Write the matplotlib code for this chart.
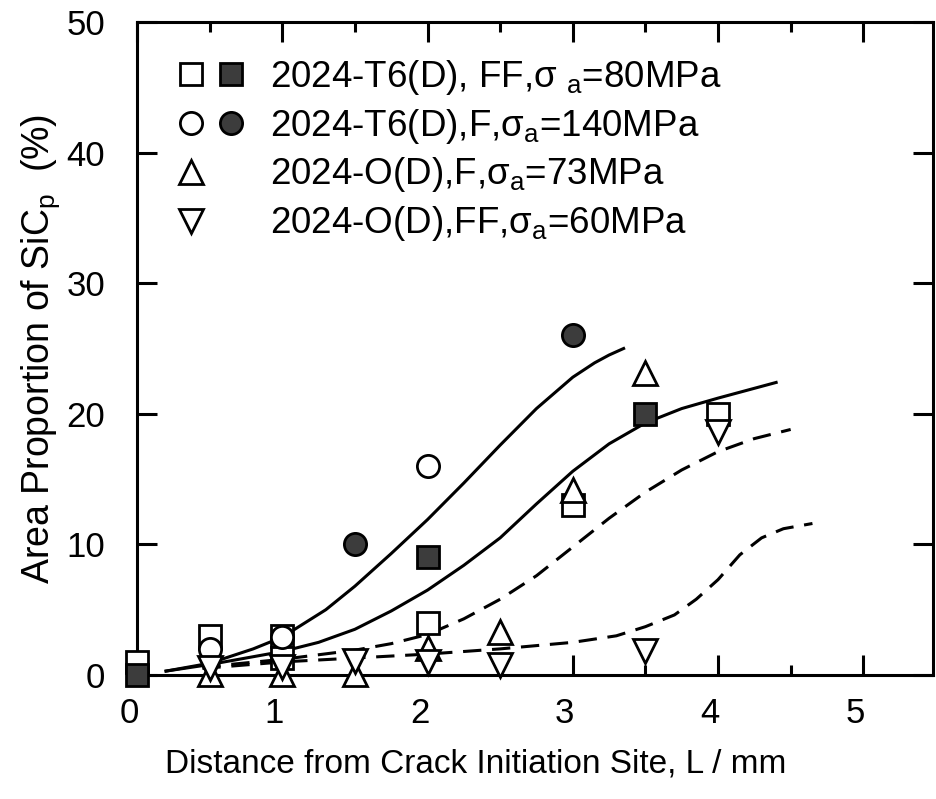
#Area proportion of SiCp vs distance from crack initiation site
import numpy as np
import matplotlib
matplotlib.use("Agg")
import matplotlib.pyplot as plt
import matplotlib.transforms as mtransforms
from matplotlib.lines import Line2D
from matplotlib.legend_handler import HandlerTuple
#==============================================================================================================
# measured points
sq_open_x = [0.0, 0.5, 1.0, 1.0, 2.0, 3.0, 4.0]
sq_open_y = [1.0, 3.0, 3.0, 1.3, 4.0, 13.0, 20.0]
sq_fill_x = [0.0, 2.0, 3.5]
sq_fill_y = [0.0, 9.0, 20.0]
ci_open_x = [0.5, 1.0, 2.0]
ci_open_y = [2.0, 2.9, 16.0]
ci_fill_x = [1.5, 3.0]
ci_fill_y = [10.0, 26.0]
tri_up_x = [0.5, 1.0, 1.5, 2.0, 2.5, 3.0, 3.5]
tri_up_y = [0.1, 0.1, 0.1, 2.1, 3.3, 14.2, 23.1]
tri_dn_x = [0.5, 1.0, 1.5, 2.0, 2.5, 3.5, 4.0]
tri_dn_y = [0.5, 0.6, 1.1, 1.0, 0.8, 1.8, 18.6]

# fitted curves
c1_x = [0.2, 0.5, 0.8, 1.0, 1.3, 1.5, 1.75, 2.0, 2.25, 2.5, 2.75, 3.0, 3.15, 3.25, 3.35]
c1_y = [0.3, 0.9, 2.0, 2.9, 5.0, 6.8, 9.3, 11.9, 14.7, 17.6, 20.4, 22.8, 23.9, 24.5, 25.0]
c2_x = [0.2, 0.5, 1.0, 1.25, 1.5, 1.75, 2.0, 2.25, 2.5, 2.75, 3.0, 3.25, 3.5, 3.75, 4.0, 4.2, 4.4]
c2_y = [0.3, 0.8, 1.8, 2.5, 3.5, 4.9, 6.5, 8.4, 10.5, 13.1, 15.6, 17.7, 19.3, 20.4, 21.2, 21.8, 22.4]
c3_x = [0.45, 1.0, 1.5, 1.75, 2.0, 2.25, 2.5, 2.75, 3.0, 3.25, 3.5, 3.75, 4.0, 4.25, 4.5]
c3_y = [0.6, 1.2, 1.9, 2.4, 3.1, 4.3, 5.8, 7.6, 9.8, 12.0, 14.0, 15.7, 17.1, 18.1, 18.8]
c4_x = [0.45, 1.0, 1.5, 2.0, 2.5, 3.0, 3.3, 3.5, 3.7, 3.85, 4.0, 4.15, 4.3, 4.45, 4.65]
c4_y = [0.5, 1.0, 1.3, 1.6, 2.0, 2.5, 3.0, 3.7, 4.6, 5.8, 7.3, 9.2, 10.5, 11.2, 11.6]

labels = [r'2024-T6(D), FF,$\sigma\ _\mathrm{a}$=80MPa',
          r'2024-T6(D),F,$\sigma_\mathrm{a}$=140MPa',
          r'2024-O(D),F,$\sigma_\mathrm{a}$=73MPa',
          r'2024-O(D),FF,$\sigma_\mathrm{a}$=60MPa']
#==============================================================================================================
plt.rcParams['font.family'] = ['Liberation Sans', 'DejaVu Sans']
plt.rcParams['mathtext.fontset'] = 'custom'
plt.rcParams['mathtext.rm'] = 'Liberation Sans'
plt.rcParams['mathtext.it'] = 'Liberation Sans:italic'
plt.rcParams['mathtext.default'] = 'regular'

fig = plt.figure(figsize=(9.36, 7.99), dpi=100)
ax = fig.add_axes([0.1464, 0.1552, 0.8504, 0.8173])

dark = '#3c3c3c'
lw = 2.2
ax.plot(c1_x, c1_y, color='black', lw=lw, zorder=2)
ax.plot(c2_x, c2_y, color='black', lw=lw, zorder=2)
ax.plot(c3_x, c3_y, color='black', lw=lw, ls=(0, (6, 3.5)), zorder=2)
ax.plot(c4_x, c4_y, color='black', lw=lw, ls=(0, (6, 3.5)), zorder=2)

ms = 16
kw = dict(ls='none', markeredgecolor='black', markeredgewidth=2, clip_on=False, zorder=4)
h_sq_o, = ax.plot(sq_open_x, sq_open_y, marker='s', ms=ms, mfc='white', **kw)
h_sq_f, = ax.plot(sq_fill_x, sq_fill_y, marker='s', ms=ms, mfc=dark, **kw)
h_ci_o, = ax.plot(ci_open_x, ci_open_y, marker='o', ms=ms, mfc='white', **kw)
h_ci_f, = ax.plot(ci_fill_x, ci_fill_y, marker='o', ms=ms, mfc=dark, **kw)
h_tu, = ax.plot(tri_up_x, tri_up_y, marker='^', ms=ms + 1, mfc='white', **kw)
h_td, = ax.plot(tri_dn_x, tri_dn_y, marker='v', ms=ms + 1, mfc='white', **kw)
blank = Line2D([], [], ls='none', marker=None)

ax.set_xlim(0, 5.48)
ax.set_ylim(0, 50)
ax.set_xticks([0, 1, 2, 3, 4, 5])
ax.set_xticks(np.arange(0.5, 5.5, 1.0), minor=True)
ax.set_yticks([0, 10, 20, 30, 40, 50])
ax.tick_params(which='both', direction='in', top=True, right=True, width=2.2)
ax.tick_params(which='major', length=14.5)
ax.tick_params(which='minor', length=7.5)
ax.tick_params(axis='x', labelsize=25, pad=16)
ax.tick_params(axis='y', labelsize=25, pad=23)
for s in ax.spines.values():
    s.set_linewidth(2.2)

offset = mtransforms.ScaledTranslation(-8 / 100, 0, fig.dpi_scale_trans)
for lab in ax.get_xticklabels():
    lab.set_transform(lab.get_transform() + offset)

ax.set_xlabel('Distance from Crack Initiation Site, L / mm', fontsize=24)
ax.xaxis.set_label_coords(0.426, -0.112)
ax.set_ylabel(r'Area Proportion of SiC$_\mathrm{p}$  (%)', fontsize=27)
ax.yaxis.set_label_coords(-0.094, 0.5)

ax.legend([(h_sq_o, h_sq_f), (h_ci_o, h_ci_f), (h_tu, blank), (h_td, blank)], labels,
          handler_map={tuple: HandlerTuple(ndivide=None, pad=0.2)},
          loc='upper left', bbox_to_anchor=(0.028, 0.968), frameon=False,
          fontsize=26.5, handlelength=2.0, handletextpad=0.6, labelspacing=0.27,
          borderaxespad=0)

fig.savefig('out.png', dpi=100)
